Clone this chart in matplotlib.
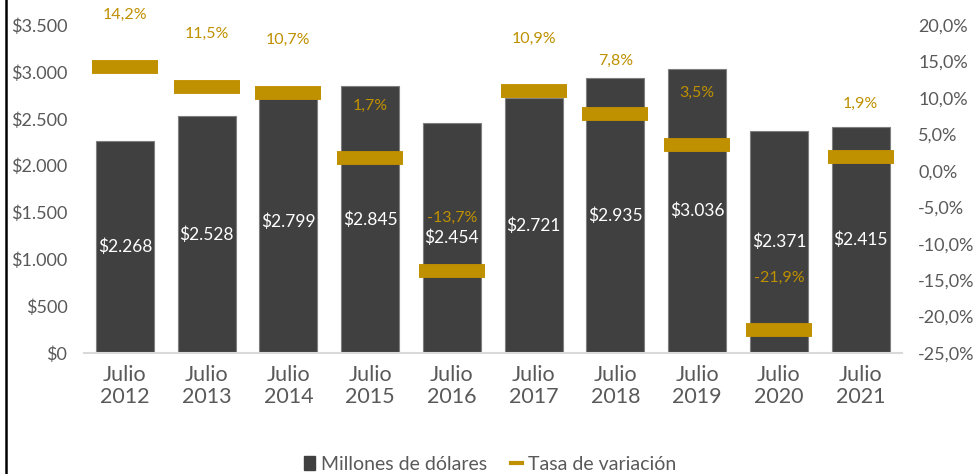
import matplotlib.pyplot as plt
from matplotlib.lines import Line2D
from matplotlib.patches import Patch

years = ['Julio\n2012', 'Julio\n2013', 'Julio\n2014', 'Julio\n2015', 'Julio\n2016',
         'Julio\n2017', 'Julio\n2018', 'Julio\n2019', 'Julio\n2020', 'Julio\n2021']
millones = [2268, 2528, 2799, 2845, 2454, 2721, 2935, 3036, 2371, 2415]
tasa = [14.2, 11.5, 10.7, 1.7, -13.7, 10.9, 7.8, 3.5, -21.9, 1.9]

plt.rcParams['font.family'] = ['Lato', 'DejaVu Sans']
gris = '#595959'
barra = '#404040'
oro = '#BF9000'

fig = plt.figure(figsize=(9.8, 4.74), dpi=100)
ax = fig.add_axes([0.0857, 0.2553, 0.8343, 0.6917])
x = list(range(len(years)))

ax.bar(x, millones, width=0.71, color=barra, edgecolor='#7f7f7f', linewidth=0.8, zorder=2)
for xi, v in zip(x, millones):
    ax.text(xi, v / 2, '$' + f'{v:,}'.replace(',', '.'), ha='center', va='center',
            color='white', fontsize=12.5, zorder=5)

ax.set_xlim(-0.5, 9.5)
ax.set_ylim(0, 3500)
ax.set_yticks(range(0, 3501, 500))
ax.set_yticklabels(['$' + f'{v:,}'.replace(',', '.') for v in range(0, 3501, 500)])
ax.set_xticks(x)
ax.set_xticklabels(years, fontsize=15.5, color=gris, linespacing=1.12)
ax.tick_params(axis='y', length=0, pad=12, labelsize=13, labelcolor=gris)
ax.tick_params(axis='x', length=0, pad=9)
for s in ['top', 'right', 'left']:
    ax.spines[s].set_visible(False)
ax.spines['bottom'].set_color('#d9d9d9')
ax.spines['bottom'].set_linewidth(1.5)

ax2 = ax.twinx()
ax2.set_ylim(-25, 20)
ax2.set_yticks(range(-25, 21, 5))
ax2.set_yticklabels([f'{v:.1f}%'.replace('.', ',') for v in range(-25, 21, 5)])
ax2.tick_params(axis='y', length=0, pad=12, labelsize=13, labelcolor=gris)
for s in ax2.spines.values():
    s.set_visible(False)
ax2.plot(x, tasa, ls='none', marker='_', ms=48, mew=10, color=oro, zorder=4)
for xi, t in zip(x, tasa):
    ax2.annotate(f'{t:.1f}%'.replace('.', ','), (xi, t), xytext=(0, 38),
                 textcoords='offset points', ha='center', va='center',
                 color=oro, fontsize=11.5)

handles = [Patch(color=barra, label='Millones de dólares'),
           Line2D([], [], color=oro, lw=3, label='Tasa de variación')]
fig.legend(handles=handles, loc='center', bbox_to_anchor=(0.5, 0.02), ncol=2,
           frameon=False, fontsize=14, labelcolor=gris, handlelength=0.6,
           handletextpad=0.3, columnspacing=1.2)

fig.add_artist(Line2D([0.006, 0.006], [0, 1], color='black', lw=1.8))

fig.savefig('out.png', dpi=100)
